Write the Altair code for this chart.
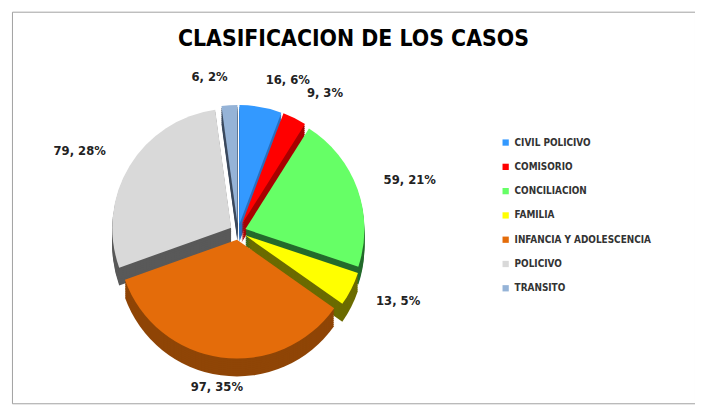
import altair as alt
import pandas as pd

# ---- data ----
categories = ["CIVIL POLICIVO", "COMISORIO", "CONCILIACION", "FAMILIA",
              "INFANCIA Y ADOLESCENCIA", "POLICIVO", "TRANSITO"]
counts = [16, 9, 59, 13, 97, 79, 6]

# ---- styles ----
top_colors = ["#3399FF", "#FF0000", "#66FF66", "#FFFF00", "#E46C0A", "#D9D9D9", "#95B3D7"]
side_colors = ["#2A6FBF", "#A80000", "#246B2C", "#6B6B00", "#8F4506", "#595959", "#3C4A5E"]
FONT = "Liberation Sans Narrow, DejaVu Sans Condensed, sans-serif"
EXPLODE = 8
R = 120
DEPTH = 18
CX, CY = 228, 222

df = pd.DataFrame({"cat": categories, "n": counts, "idx": list(range(len(categories)))})

base = (
    alt.Chart(df)
    .transform_window(cum="sum(n)", sort=[alt.SortField("idx")], frame=[None, 0])
    .transform_joinaggregate(total="sum(n)")
    .transform_calculate(
        start="(datum.cum - datum.n) / datum.total * 2 * PI",
        end="datum.cum / datum.total * 2 * PI",
    )
    .transform_calculate(mid="(datum.start + datum.end) / 2")
    .transform_calculate(
        dx=f"{EXPLODE} * sin(datum.mid)",
        dy=f"-{EXPLODE} * cos(datum.mid)",
        label="datum.n + ', ' + round(datum.n / datum.total * 100) + '%'",
    )
)

side_scale = alt.Scale(domain=categories, range=side_colors)
layers = []
for k in range(DEPTH, 0, -2):
    layers.append(
        base.transform_calculate(dyk=f"datum.dy + {k}")
        .mark_arc(radius=R)
        .encode(
            x=alt.value(CX), y=alt.value(CY),
            theta=alt.Theta("start:Q", scale=None), theta2="end:Q",
            xOffset=alt.XOffset("dx:Q", scale=None),
            yOffset=alt.YOffset("dyk:Q", scale=None),
            color=alt.Color("cat:N", scale=side_scale, legend=None),
        )
    )

top = base.mark_arc(radius=R).encode(
    x=alt.value(CX), y=alt.value(CY),
    theta=alt.Theta("start:Q", scale=None), theta2="end:Q",
    xOffset=alt.XOffset("dx:Q", scale=None),
    yOffset=alt.YOffset("dy:Q", scale=None),
    color=alt.Color(
        "cat:N",
        scale=alt.Scale(domain=categories, range=top_colors),
        legend=alt.Legend(
            title=None, orient="none", legendX=493, legendY=127,
            symbolType="square", symbolSize=40, symbolStrokeWidth=0,
            labelFont=FONT, labelFontSize=10, labelFontWeight="bold",
            labelColor="#333333", rowPadding=14.5,
        ),
    ),
)


def label_layer(side_filter, align, rad):
    return base.transform_filter(side_filter).mark_text(
        radius=rad, font=FONT, fontSize=13, fontWeight="bold", color="#222222",
        align=align, baseline="middle",
    ).encode(
        x=alt.value(CX), y=alt.value(CY),
        theta=alt.Theta("mid:Q", scale=None),
        xOffset=alt.XOffset("dx:Q", scale=None),
        yOffset=alt.YOffset("dy:Q", scale=None),
        text="label:N",
    )


labels_right = label_layer("datum.mid < 2.6", "left", R + 28)
labels_bottom = label_layer("datum.mid >= 2.6 && datum.mid < 3.7", "center", R + 30)
labels_left = label_layer("datum.mid >= 3.7", "right", R + 28)

chart = (
    alt.layer(*layers, top, labels_right, labels_bottom, labels_left)
    .resolve_scale(color="independent")
    .properties(
        width=689, height=395,
        padding={"left": 4, "top": 2, "right": 0, "bottom": 0},
        autosize=alt.AutoSizeParams(type="none"),
        title=alt.TitleParams(
            "CLASIFICACION DE LOS CASOS", font=FONT, fontSize=23, fontWeight="bold",
            color="black", anchor="middle", offset=-37, dy=21, baseline="alphabetic",
        ),
        background="white",
    )
    .configure_view(stroke="#A0A0A0", strokeWidth=1)
)

chart.save("out.html", embed_options={"renderer": "svg", "actions": False})
